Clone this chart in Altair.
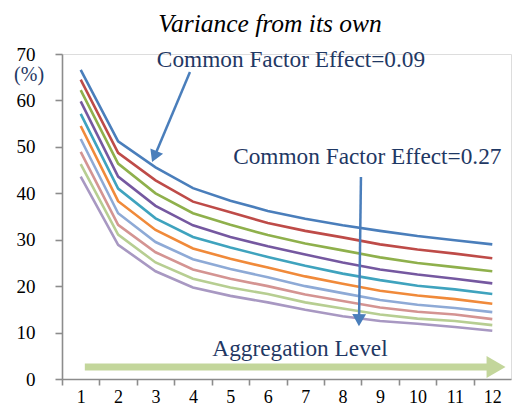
import altair as alt
import pandas as pd

# ---------------- data ----------------
levels = list(range(1, 13))
series_names = ["S1", "S2", "S3", "S4", "S5", "S6", "S7", "S8", "S9", "S10"]
s1 = [66.6, 51.2, 45.6, 41.1, 38.4, 36.2, 34.5, 33.1, 31.9, 30.8, 29.9, 29.0]
s2 = [64.5, 48.7, 42.8, 38.2, 35.9, 33.6, 31.9, 30.5, 29.0, 27.9, 27.0, 26.0]
s3 = [62.2, 46.4, 40.0, 35.7, 33.2, 31.0, 29.2, 27.7, 26.2, 25.0, 24.1, 23.2]
s4 = [59.8, 43.6, 37.3, 33.1, 30.6, 28.6, 26.8, 25.1, 23.6, 22.5, 21.6, 20.6]
s5 = [57.1, 41.0, 34.6, 30.6, 28.3, 26.3, 24.4, 22.7, 21.3, 20.1, 19.3, 18.3]
s6 = [54.5, 38.3, 32.1, 28.1, 25.9, 24.0, 22.1, 20.5, 19.0, 18.0, 17.2, 16.2]
s7 = [51.7, 35.7, 29.5, 25.8, 23.7, 21.9, 20.0, 18.5, 17.0, 16.0, 15.3, 14.4]
s8 = [48.9, 33.2, 27.3, 23.6, 21.6, 20.0, 18.2, 16.8, 15.4, 14.5, 13.9, 12.9]
s9 = [46.3, 31.1, 25.1, 21.6, 19.7, 18.3, 16.5, 15.2, 13.9, 13.0, 12.5, 11.6]
s10 = [43.6, 28.9, 23.2, 19.7, 17.9, 16.5, 14.9, 13.5, 12.5, 11.9, 11.2, 10.4]
series_values = [s1, s2, s3, s4, s5, s6, s7, s8, s9, s10]
colors = ["#4A7EBB", "#BE4B48", "#8FB04C", "#7558A0", "#3FA3BE", "#F08A3A",
          "#8EAAD6", "#D49492", "#B7CE92", "#A898C2"]

y_ticks = [0, 10, 20, 30, 40, 50, 60, 70]
x_tick_values = [0.5 + i for i in range(12)]

title_text = "Variance from its own"
ann_texts = ["Common Factor Effect=0.09", "Common Factor Effect=0.27", "Aggregation Level"]
ann_x = [6.62, 8.66, 6.86]
ann_y = [68.7, 47.8, 6.45]

# ---------------- build ----------------
rows = []
for name, vals in zip(series_names, series_values):
    for lv, v in zip(levels, vals):
        rows.append({"series": name, "level": lv, "value": v})
df = pd.DataFrame(rows)

xs = alt.Scale(domain=[0.5, 12.5], nice=False, zero=False)
ys = alt.Scale(domain=[0, 70], nice=False, zero=False)

AXIS_GREY = "#8C8C8C"
TEXT_NAVY = "#1F3864"
SERIF = "Liberation Serif, Times New Roman, DejaVu Serif, serif"

lines = alt.Chart(df).mark_line(strokeWidth=2.6).encode(
    x=alt.X("level:Q", scale=xs, axis=alt.Axis(
        values=x_tick_values, labelExpr="datum.value + 0.5", labelOffset=18.7,
        labelFlush=False, labelOverlap=False, title=None, grid=False,
        domainColor=AXIS_GREY, domainWidth=1.6, tickColor=AXIS_GREY, tickWidth=1.6,
        tickSize=6, labelPadding=3, labelFont=SERIF, labelFontSize=18, labelColor="black")),
    y=alt.Y("value:Q", scale=ys, axis=alt.Axis(
        values=y_ticks, title=None, grid=False, domainColor=AXIS_GREY, domainWidth=1.6,
        tickColor=AXIS_GREY, tickWidth=1.6, tickSize=7, labelPadding=20,
        labelFont=SERIF, labelFontSize=19, labelColor="black")),
    color=alt.Color("series:N", scale=alt.Scale(domain=series_names, range=colors), legend=None),
    order=alt.Order("level:Q"),
)

title_df = pd.DataFrame({"t": [title_text], "x": [6.06], "y": [76.46]})
title_mark = alt.Chart(title_df).mark_text(
    font=SERIF, fontSize=25.5, fontStyle="italic", color="black", baseline="middle", align="center"
).encode(x=alt.X("x:Q", scale=xs), y=alt.Y("y:Q", scale=ys), text="t:N")

pct_df = pd.DataFrame({"t": ["(%)"], "x": [-0.38], "y": [65.48]})
pct_mark = alt.Chart(pct_df).mark_text(
    font=SERIF, fontSize=20, color=TEXT_NAVY, baseline="middle", align="center"
).encode(x=alt.X("x:Q", scale=xs), y=alt.Y("y:Q", scale=ys), text="t:N")

ann_df = pd.DataFrame({"t": ann_texts, "x": ann_x, "y": ann_y})
ann_mark = alt.Chart(ann_df).mark_text(
    font=SERIF, fontSize=23.3, color=TEXT_NAVY, baseline="middle", align="center"
).encode(x=alt.X("x:Q", scale=xs), y=alt.Y("y:Q", scale=ys), text="t:N")

# green aggregation arrow
green_shaft = pd.DataFrame({"x": [1.11], "x2": [11.95], "y": [2.58]})
green_line = alt.Chart(green_shaft).mark_rule(color="#C3D69B", strokeWidth=7).encode(
    x=alt.X("x:Q", scale=xs), x2="x2:Q", y=alt.Y("y:Q", scale=ys))
green_head_df = pd.DataFrame({"x": [12.1], "y": [2.58]})
green_head = alt.Chart(green_head_df).mark_point(
    shape="triangle-right", size=480, filled=True, color="#C3D69B", opacity=1
).encode(x=alt.X("x:Q", scale=xs), y=alt.Y("y:Q", scale=ys))

# blue pointer arrows
blue_df = pd.DataFrame({"x": [3.92, 8.49], "y": [66.1, 43.5], "x2": [2.99, 8.44], "y2": [48.3, 13.1]})
blue_lines = alt.Chart(blue_df).mark_rule(color="#4A7EBB", strokeWidth=2.5).encode(
    x=alt.X("x:Q", scale=xs), y=alt.Y("y:Q", scale=ys), x2="x2:Q", y2="y2:Q")
head_df = pd.DataFrame({"x": [2.99, 8.44], "y": [48.3, 13.1], "a": [203, 181]})
blue_heads = alt.Chart(head_df).mark_point(
    shape="triangle", size=190, filled=True, color="#4A7EBB", opacity=1
).encode(x=alt.X("x:Q", scale=xs), y=alt.Y("y:Q", scale=ys),
         angle=alt.Angle("a:Q", scale=None))

chart = alt.layer(
    lines, green_line, green_head, blue_lines, blue_heads, title_mark, pct_mark, ann_mark
).properties(
    width=449, height=325,
    padding={"left": 54, "top": 46, "right": 1, "bottom": 31},
    autosize=alt.AutoSizeParams(type="none"),
).configure_view(stroke=None).configure(background="white")

chart.save("out.html", embed_options={"renderer": "svg", "actions": False})
